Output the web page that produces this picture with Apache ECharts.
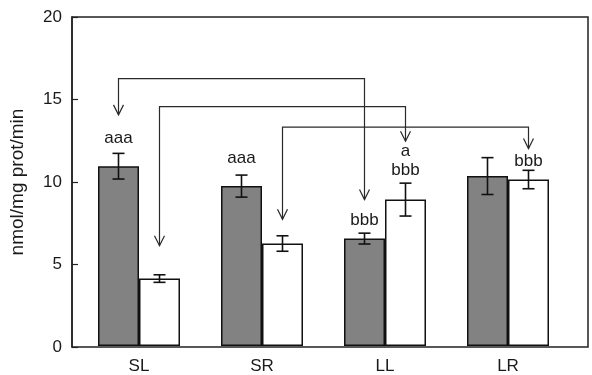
<!DOCTYPE html>
<html>
<head>
<meta charset="utf-8">
<script src="https://cdn.jsdelivr.net/npm/echarts@6/dist/echarts.min.js"></script>
<style>html,body{margin:0;padding:0;background:#fff}#c{width:592px;height:375px}</style>
</head>
<body>
<div id="c"></div>
<script>
var categories = ['SL', 'SR', 'LL', 'LR'];
var greyMeans = [10.93, 9.72, 6.53, 10.33];
var greyErrors = [0.78, 0.67, 0.33, 1.12];
var whiteMeans = [4.1, 6.23, 8.9, 10.12];
var whiteErrors = [0.23, 0.47, 1.0, 0.56];
var yTicks = [0, 5, 10, 15, 20];
var yTitle = 'nmol/mg prot/min';

// annotations: [category index, side (-1 grey, 1 white), level, text]
var noteCats = [0, 1, 2, 2, 2, 3];
var noteSides = [-1, -1, -1, 1, 1, 1];
var noteLevels = [12.6, 11.4, 7.65, 11.85, 10.67, 11.25];
var noteTexts = ['aaa', 'aaa', 'bbb', 'a', 'bbb', 'bbb'];

// comparison arrows
var arrowFromCat = [0, 0, 1];
var arrowFromSide = [-1, 1, 1];
var arrowToCat = [2, 2, 3];
var arrowToSide = [-1, 1, 1];
var arrowLevel = [16.25, 14.55, 13.3];
var arrowTipFrom = [14.05, 6.1, 7.7];
var arrowTipTo = [8.9, 12.45, 12.0];

var FONT = '"Liberation Sans", Arial, sans-serif';
var TXT = '#1a1a1a';

function sideX(api, cat, side) {
  var band = api.size([1, 0])[0];
  return api.coord([cat, 0])[0] + side * band / 6;
}

function errData(means, errs, side) {
  return means.map(function (m, i) { return [i, side, m, errs[i]]; });
}

function renderErr(params, api) {
  var cat = api.value(0), side = api.value(1), m = api.value(2), e = api.value(3);
  var x = sideX(api, cat, side);
  var yt = api.coord([cat, m + e])[1];
  var yb = api.coord([cat, m - e])[1];
  var hw = 6;
  var st = { stroke: '#111', lineWidth: 1.6 };
  return {
    type: 'group',
    children: [
      { type: 'line', shape: { x1: x, y1: yt, x2: x, y2: yb }, style: st },
      { type: 'line', shape: { x1: x - hw, y1: yt, x2: x + hw, y2: yt }, style: st },
      { type: 'line', shape: { x1: x - hw, y1: yb, x2: x + hw, y2: yb }, style: st }
    ]
  };
}

var noteData = noteCats.map(function (c, i) { return [c, noteSides[i], noteLevels[i]]; });
function renderNote(params, api) {
  var i = params.dataIndex;
  var cat = api.value(0), side = api.value(1), lv = api.value(2);
  var x = sideX(api, cat, side);
  var y = api.coord([cat, lv])[1];
  return {
    type: 'text',
    style: { x: x, y: y, text: noteTexts[i], fill: TXT, font: '17px ' + FONT, align: 'center', verticalAlign: 'middle' }
  };
}

var arrowData = arrowFromCat.map(function (c, i) { return [c, arrowToCat[i], arrowLevel[i]]; });
function renderArrow(params, api) {
  var i = params.dataIndex;
  var x1 = sideX(api, arrowFromCat[i], arrowFromSide[i]);
  var x2 = sideX(api, arrowToCat[i], arrowToSide[i]);
  var yl = api.coord([0, arrowLevel[i]])[1];
  var y1 = api.coord([0, arrowTipFrom[i]])[1];
  var y2 = api.coord([0, arrowTipTo[i]])[1];
  var st = { stroke: '#2a2a2a', lineWidth: 1.2, fill: null };
  var hw = 5, hh = 10;
  return {
    type: 'group',
    children: [
      { type: 'polyline', shape: { points: [[x1, y1], [x1, yl], [x2, yl], [x2, y2]] }, style: st },
      { type: 'polyline', shape: { points: [[x1 - hw, y1 - hh], [x1, y1], [x1 + hw, y1 - hh]] }, style: st },
      { type: 'polyline', shape: { points: [[x2 - hw, y2 - hh], [x2, y2], [x2 + hw, y2 - hh]] }, style: st }
    ]
  };
}

var chart = echarts.init(document.getElementById('c'), null, { renderer: 'canvas' });
chart.setOption({
  animation: false,
  backgroundColor: '#fff',
  textStyle: { fontFamily: FONT },
  grid: [
    { left: 72, top: 17, width: 516, height: 330, show: true, borderColor: '#222', borderWidth: 1.5, backgroundColor: 'transparent' },
    { left: 77.5, top: 17, width: 492, height: 330 }
  ],
  xAxis: [
    { gridIndex: 0, type: 'value', min: 0, max: 1, show: false },
    {
      gridIndex: 1, type: 'category', data: categories,
      axisLine: { show: false }, axisTick: { show: false },
      axisLabel: { fontSize: 17, color: TXT, margin: 12, fontFamily: FONT }
    }
  ],
  yAxis: [
    {
      gridIndex: 0, type: 'value', min: yTicks[0], max: yTicks[yTicks.length - 1], interval: yTicks[1] - yTicks[0],
      name: yTitle, nameLocation: 'middle', nameGap: 45,
      nameTextStyle: { fontSize: 19, color: TXT, fontFamily: FONT },
      axisLine: { show: true, lineStyle: { color: '#222', width: 1.5 } },
      axisTick: { show: true, inside: true, length: 6, lineStyle: { color: '#222', width: 1.2 } },
      axisLabel: { fontSize: 17, color: TXT, margin: 10, fontFamily: FONT },
      splitLine: { show: false }
    },
    { gridIndex: 1, type: 'value', min: yTicks[0], max: yTicks[yTicks.length - 1], show: false }
  ],
  series: [
    {
      type: 'bar', xAxisIndex: 1, yAxisIndex: 1, data: greyMeans,
      barWidth: '33.33%', barGap: '0%',
      itemStyle: { color: '#828282', borderColor: '#111', borderWidth: 1.5 }
    },
    {
      type: 'bar', xAxisIndex: 1, yAxisIndex: 1, data: whiteMeans,
      barWidth: '33.33%', barGap: '0%',
      itemStyle: { color: '#ffffff', borderColor: '#111', borderWidth: 1.5 }
    },
    { type: 'custom', xAxisIndex: 1, yAxisIndex: 1, data: errData(greyMeans, greyErrors, -1), renderItem: renderErr, z: 5 },
    { type: 'custom', xAxisIndex: 1, yAxisIndex: 1, data: errData(whiteMeans, whiteErrors, 1), renderItem: renderErr, z: 5 },
    { type: 'custom', xAxisIndex: 1, yAxisIndex: 1, data: noteData, renderItem: renderNote, z: 6 },
    { type: 'custom', xAxisIndex: 1, yAxisIndex: 1, data: arrowData, renderItem: renderArrow, z: 6 }
  ]
});
</script>
</body>
</html>
